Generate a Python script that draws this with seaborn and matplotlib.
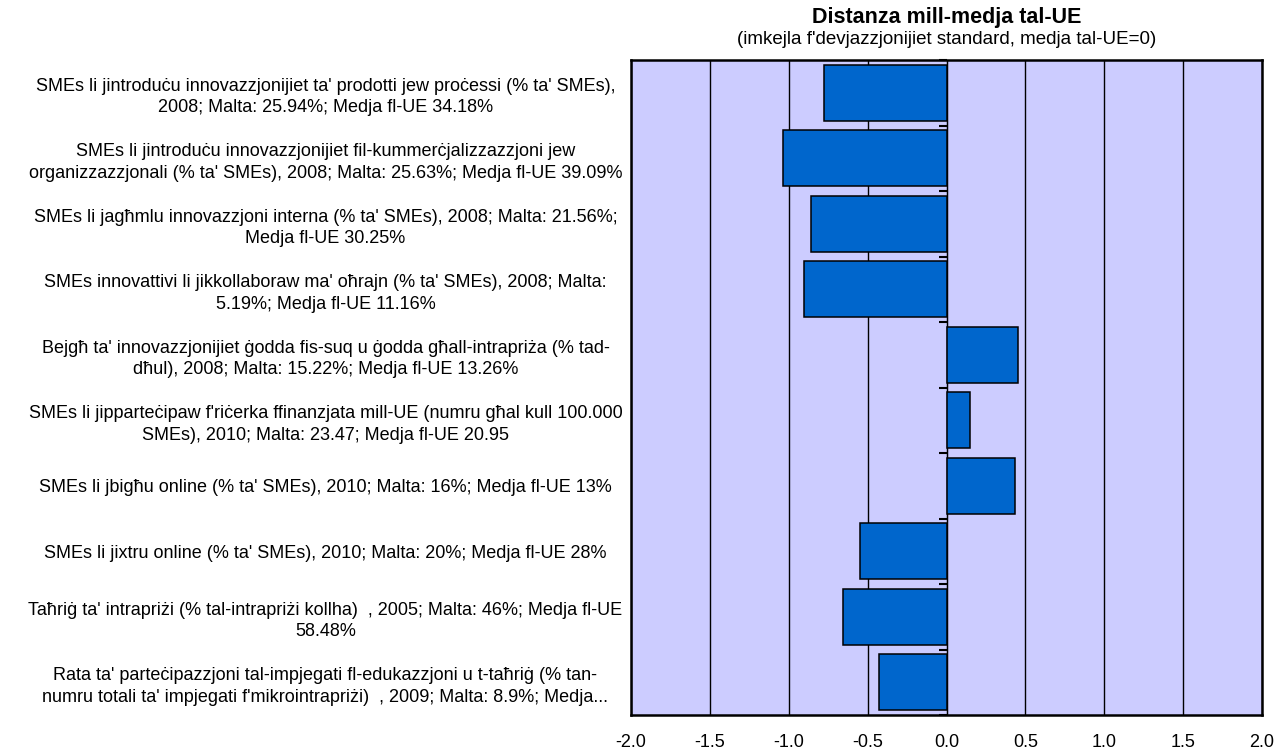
import numpy as np
import pandas as pd
import matplotlib
matplotlib.use("Agg")
import matplotlib.pyplot as plt
import seaborn as sns
from matplotlib import font_manager

categories = [
    "SMEs li jintroduċu innovazzjonijiet ta' prodotti jew proċessi (% ta' SMEs),\n2008; Malta: 25.94%; Medja fl-UE 34.18%",
    "SMEs li jintroduċu innovazzjonijiet fil-kummerċjalizzazzjoni jew\norganizzazzjonali (% ta' SMEs), 2008; Malta: 25.63%; Medja fl-UE 39.09%",
    "SMEs li jagħmlu innovazzjoni interna (% ta' SMEs), 2008; Malta: 21.56%;\nMedja fl-UE 30.25%",
    "SMEs innovattivi li jikkollaboraw ma' oħrajn (% ta' SMEs), 2008; Malta:\n5.19%; Medja fl-UE 11.16%",
    "Bejgħ ta' innovazzjonijiet ġodda fis-suq u ġodda għall-intrapriża (% tad-\ndħul), 2008; Malta: 15.22%; Medja fl-UE 13.26%",
    "SMEs li jipparteċipaw f'riċerka ffinanzjata mill-UE (numru għal kull 100.000\nSMEs), 2010; Malta: 23.47; Medja fl-UE 20.95",
    "SMEs li jbigħu online (% ta' SMEs), 2010; Malta: 16%; Medja fl-UE 13%",
    "SMEs li jixtru online (% ta' SMEs), 2010; Malta: 20%; Medja fl-UE 28%",
    "Taħriġ ta' intrapriżi (% tal-intrapriżi kollha)  , 2005; Malta: 46%; Medja fl-UE\n58.48%",
    "Rata ta' parteċipazzjoni tal-impjegati fl-edukazzjoni u t-taħriġ (% tan-\nnumru totali ta' impjegati f'mikrointrapriżi)  , 2009; Malta: 8.9%; Medja...",
]
values = [-0.775, -1.037, -0.857, -0.906, 0.455, 0.146, 0.434, -0.548, -0.656, -0.43]
x_ticks = [-2.0, -1.5, -1.0, -0.5, 0.0, 0.5, 1.0, 1.5, 2.0]

title = "Distanza mill-medja tal-UE"
subtitle = "(imkejla f'devjazzjonijiet standard, medja tal-UE=0)"

sns.set_style("white")
names = {f.name for f in font_manager.fontManager.ttflist}
main_font = "Liberation Sans Narrow" if "Liberation Sans Narrow" in names else "Liberation Sans"
plt.rcParams["font.family"] = [main_font, "DejaVu Sans"]
plt.rcParams["text.color"] = "black"
plt.rcParams["xtick.color"] = "black"
plt.rcParams["ytick.color"] = "black"

df = pd.DataFrame({"label": categories, "value": values})

fig = plt.figure(figsize=(12.82, 7.52), dpi=100)
ax = fig.add_axes([631 / 1282, 1 - 715 / 752, (1262 - 631) / 1282, (715 - 60) / 752])
ax.set_facecolor("#CCCCFF")

sns.barplot(data=df, x="value", y="label", orient="h", color="#0066CC",
            saturation=1, edgecolor="black", linewidth=1.1, width=0.86, ax=ax, zorder=3)

ax.set_xlim(-2, 2)
ax.set_ylim(9.5, -0.5)
ax.set_xticks(x_ticks)
ax.set_xticklabels([f"{t:.1f}" for t in x_ticks], fontsize=13, color="black")
ax.grid(axis="x", color="black", linewidth=1.0)
ax.grid(axis="y", visible=False)
ax.set_axisbelow(True)
ax.set_xlabel("")
ax.set_ylabel("")

ax.set_yticks(range(len(categories)))
ax.set_yticklabels(categories, fontsize=13, ha="center", multialignment="center",
                   linespacing=1.35, color="black")
ax.tick_params(axis="y", length=0, pad=220)
ax.tick_params(axis="x", length=0, pad=14)

for sp in ax.spines.values():
    sp.set_visible(True)
    sp.set_color("black")
    sp.set_linewidth(1.8)

zero_ax = ax.secondary_yaxis(0.5)
zero_ax.set_yticks(np.arange(-0.5, len(categories), 1.0))
zero_ax.set_yticklabels([])
zero_ax.tick_params(axis="y", direction="in", length=6, width=1.5, color="black")
zero_ax.spines["left"].set_linewidth(1.8)
zero_ax.spines["left"].set_color("black")

cx = ax.get_position().x0 + ax.get_position().width / 2
fig.text(cx, 1 - 17 / 752, title, ha="center", va="center", fontsize=15.5,
         fontweight="bold", color="black")
fig.text(cx, 1 - 40 / 752, subtitle, ha="center", va="center", fontsize=13.5,
         color="black")

fig.savefig("out.png", dpi=100)
